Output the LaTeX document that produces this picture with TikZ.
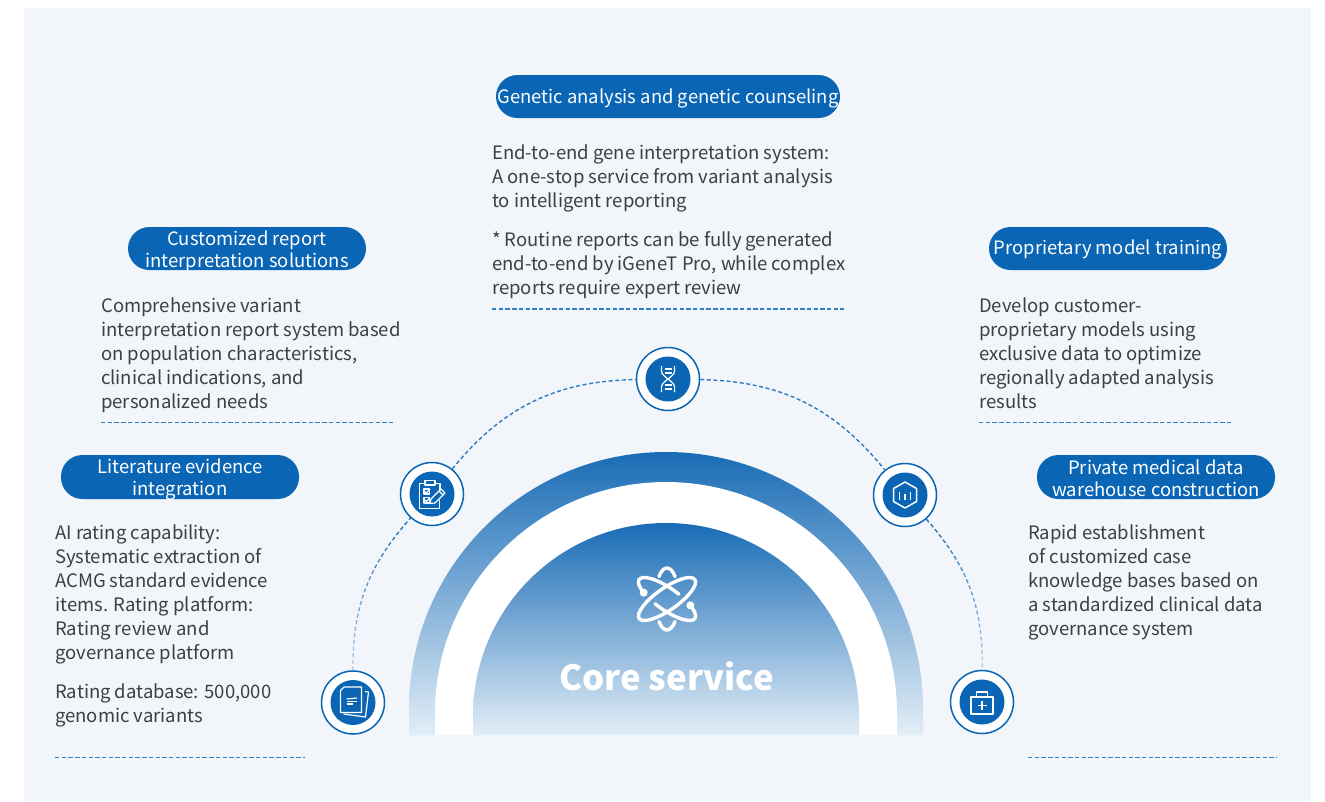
\documentclass[tikz,border=0pt]{standalone}
\usepackage{fontspec}
\setmainfont{Noto Sans CJK SC}
\usetikzlibrary{calc}
\usetikzlibrary{positioning}
\usetikzlibrary{fadings}
\definecolor{panelbg}{HTML}{F2F6FB}
\definecolor{bluemain}{HTML}{0A65B5}
\definecolor{bluetop}{HTML}{1A6CB6}
\definecolor{bluefoot}{HTML}{E2EEF7}
\definecolor{bodytext}{HTML}{3B4046}
\definecolor{arcupper}{HTML}{2F7CC0}
\definecolor{rulecolor}{HTML}{2F80C4}
\tikzfading[name=ringfade, top color=transparent!10, bottom color=transparent!75]
\newcommand{\pillstrut}[1]{\rule{0pt}{#1pt}}
\tikzset{
	titlepill/.style={fill=bluemain, rounded corners=21.5pt, minimum width=238pt, minimum height=43pt, inner xsep=0pt, inner ysep=-6pt, text=white, align=center, font=\fontsize{18.45}{22}\selectfont},
	bodyblock/.style={anchor=north west, inner sep=0pt, align=left, text=bodytext, font=\fontsize{18.5}{24}\selectfont},
	underline/.style={draw=rulecolor, line width=1.2pt, dash pattern=on 4.4pt off 2.3pt},
	ringlink/.style={line width=1.4pt, dash pattern=on 4pt off 2.6pt},
	iconring/.style={circle, draw=bluemain, line width=1.5pt, fill=white, minimum size=63pt, inner sep=0pt},
	iconcore/.style={circle, fill=bluemain, minimum size=45pt, inner sep=0pt},
	iconline/.style={draw=white, line width=1.2pt, line join=round},
	atomline/.style={draw=white, line width=3.4pt, line cap=round}
}
\begin{document}
\begin{tikzpicture}[x=1pt, y=-1pt]
	\useasboundingbox (0,0) rectangle (1325,801);
	\fill[panelbg] (24,8) rectangle (1311,801);

	% arches
	\shade[top color=bluetop, bottom color=bluefoot] (409,735) -- (409,709) arc[start angle=180, end angle=360, radius=257] -- (923,735) -- cycle;
	\fill[white] (435,735) -- (435,713) arc[start angle=180, end angle=360, radius=231] -- (897,735) -- cycle;
	\shade[top color=bluetop, bottom color=bluefoot] (473,735) -- (473,716) arc[start angle=180, end angle=360, radius=193] -- (859,735) -- cycle;

	% atom
	\begin{scope}[shift={(667,599)}]
		\draw[atomline, rotate=35] (0,0) ellipse[x radius=34, y radius=11];
		\begin{scope}[rotate=-35]
			\draw[atomline] (132:34 and 11) arc[start angle=132, end angle=282, x radius=34, y radius=11];
			\draw[atomline] (312:34 and 11) arc[start angle=312, end angle=462, x radius=34, y radius=11];
			\fill[white] (132:34 and 11) circle[radius=4];
			\fill[white] (312:34 and 11) circle[radius=4];
		\end{scope}
		\draw[atomline] (-8,-22.5) .. controls (-6,-28) and (-3,-31) .. (0,-31) .. controls (3,-31) and (6,-28) .. (8,-22.5);
		\draw[atomline] (-8,22.5) .. controls (-6,28) and (-3,31) .. (0,31) .. controls (3,31) and (6,28) .. (8,22.5);
	\end{scope}
	\node[text=white, font=\fontsize{34.7}{40}\selectfont\bfseries] (core) at (666.5,676) {Core service};

	% titles
	\node[titlepill, minimum width=344pt] (geneticpill) at (668,96.5) {\pillstrut{18}Genetic analysis and genetic counseling};
	\node[titlepill] (reportpill) at (247,248.5) {\pillstrut{21}Customized report\\interpretation solutions};
	\node[titlepill] (modelpill) at (1108,248.5) {\pillstrut{16}Proprietary model training};
	\node[titlepill, minimum height=44pt] (literaturepill) at (180,477) {\pillstrut{19}Literature evidence\\integration};
	\node[titlepill, minimum height=44pt] (warehousepill) at (1156,477) {\pillstrut{18}Private medical data\\warehouse construction};

	% body texts
	\node[bodyblock] (genetictext) at (492,144.5) {End-to-end gene interpretation system:\\A one-stop service from variant analysis\\to intelligent reporting\\[15pt]* Routine reports can be fully generated\\end-to-end by iGeneT Pro, while complex\\reports require expert review};
	\node[bodyblock] (reporttext) at (101,297.5) {Comprehensive variant\\interpretation report system based\\on population characteristics,\\clinical indications, and\\personalized needs};
	\node[bodyblock] (modeltext) at (979,297.5) {Develop customer-\\proprietary models using\\exclusive data to optimize\\regionally adapted analysis\\results};
	\node[bodyblock] (literaturetext) at (55,524.5) {AI rating capability:\\Systematic extraction of\\ACMG standard evidence\\items. Rating platform:\\Rating review and\\governance platform\\[15pt]Rating database: 500,000\\genomic variants};
	\node[bodyblock] (warehousetext) at (1028,524.5) {Rapid establishment\\of customized case\\knowledge bases based on\\a standardized clinical data\\governance system};

	% underlines
	\coordinate (a) at (492,309);
	\coordinate (b) at (844,309);
	\coordinate (c) at (101,422.5);
	\coordinate (d) at (393,422.5);
	\coordinate (e) at (979,422.5);
	\coordinate (f) at (1232,422.5);
	\coordinate (g) at (55,757.5);
	\coordinate (h) at (305,757.5);
	\coordinate (i) at (1028,757.5);
	\coordinate (j) at (1277,757.5);
	\draw[underline] (a) -- (b);
	\draw[underline] (c) -- (d);
	\draw[underline] (e) -- (f);
	\draw[underline] (g) -- (h);
	\draw[underline] (i) -- (j);

	% icon discs
	\node[iconring] (paper) at (353,702.5) {};
	\node[iconring] (clipboard) at (432,494) {};
	\node[iconring] (dna) at (668,379) {};
	\node[iconring] (hexagon) at (905,495) {};
	\node[iconring] (medkit) at (982,702) {};
	\node[iconcore] at (paper) {};
	\node[iconcore] at (clipboard) {};
	\node[iconcore] at (dna) {};
	\node[iconcore] at (hexagon) {};
	\node[iconcore] at (medkit) {};

	% ring
	\draw[ringlink, draw=bluemain, path fading=ringfade, fit fading=true] (paper) to[bend left=21] (clipboard);
	\draw[ringlink, draw=arcupper] (clipboard) to[bend left=25] (dna);
	\draw[ringlink, draw=arcupper] (dna) to[bend left=25] (hexagon);
	\draw[ringlink, draw=bluemain, path fading=ringfade, fit fading=true] (hexagon) to[bend left=21] (medkit);

	% icon glyphs
	\begin{scope}[shift={(paper.center)}]
		\draw[iconline] (12,-11) -- (15.5,-10.5) -- (12.5,14.5) -- (-9.5,11.5);
		\draw[iconline] (-9,-15.5) -- (8.5,-15.5) -- (8.5,10) -- (-12.5,10) -- (-12.5,-12) -- cycle;
		\draw[iconline] (-6.5,-3.5) -- (4,-4.5);
		\draw[iconline] (-6.5,-1) -- (4,-1);
		\draw[iconline] (-6.5,1.5) -- (0,1.5);
	\end{scope}
	\begin{scope}[shift={(clipboard.center)}]
		\draw[iconline] (8,-4) -- (8,-10.5) -- (-12.5,-10.5) -- (-12.5,14.5) -- (7.5,14.5) -- (7.5,6);
		\draw[iconline, fill=bluemain] (-7,-13.5) rectangle (3,-9);
		\draw[iconline] (-8,-5) rectangle (-2.5,0);
		\draw[iconline] (-8,3.5) rectangle (-2.5,9);
		\draw[iconline] (-7,-2.5) -- (-5.5,-1) -- (-2,-5);
		\draw[iconline] (-7,6) -- (-5.5,7.5) -- (-2,3.5);
		\draw[iconline, fill=bluemain] (-2,9.5) -- (-1,5) -- (9,-5) -- (13,-1) -- (3,9) -- cycle;
		\draw[iconline] (7,-3) -- (11,1);
	\end{scope}
	\begin{scope}[shift={(dna.center)}]
		\draw[iconline] (-6.5,-13) -- (-6.5,-8) .. controls (-6.5,-2) and (6.5,2) .. (6.5,8) -- (6.5,13);
		\draw[iconline] (6.5,-13) -- (6.5,-8) .. controls (6.5,-2) and (-6.5,2) .. (-6.5,8) -- (-6.5,13);
		\draw[iconline] (-3.5,-10) -- (3.5,-10);
		\draw[iconline] (-3.5,-6) -- (3.5,-6);
		\draw[iconline] (-3.5,6) -- (3.5,6);
		\draw[iconline] (-3.5,10) -- (3.5,10);
	\end{scope}
	\begin{scope}[shift={(hexagon.center)}]
		\draw[iconline, line width=1.5pt] (0,-13) -- (11.5,-6.5) -- (11.5,6.5) -- (0,13) -- (-11.5,6.5) -- (-11.5,-6.5) -- cycle;
		\draw[iconline, line width=1.5pt] (-5.5,-3.5) -- (-5.5,5);
		\draw[iconline, line width=1.5pt] (0,-1) -- (0,5);
		\draw[iconline, line width=1.5pt] (5.5,-3.5) -- (5.5,5);
	\end{scope}
	\begin{scope}[shift={(medkit.center)}]
		\draw[iconline, line width=1.4pt] (-11,-5) rectangle (11,12);
		\draw[iconline, line width=1.4pt] (-5.5,-5) -- (-5.5,-10) -- (5.5,-10) -- (5.5,-5);
		\draw[iconline, line width=1.4pt] (-4.5,3.5) -- (4.5,3.5);
		\draw[iconline, line width=1.4pt] (0,-1) -- (0,8);
	\end{scope}
\end{tikzpicture}
\end{document}
